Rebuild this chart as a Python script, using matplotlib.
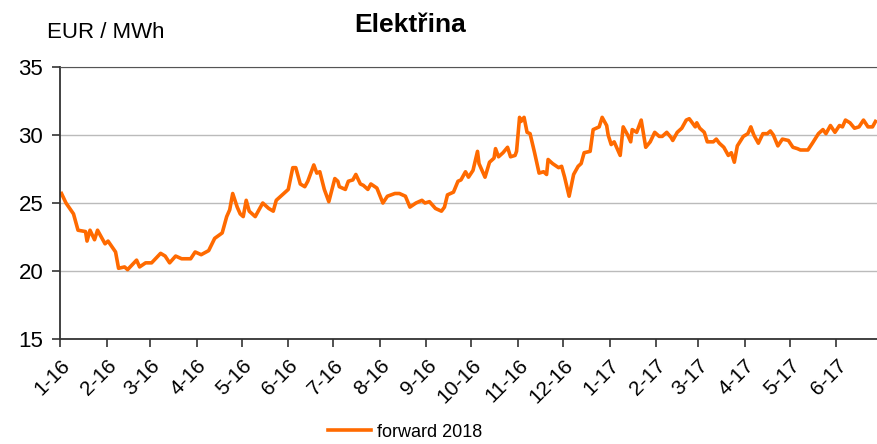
import numpy as np
import pandas as pd
import matplotlib
matplotlib.use("Agg")
import matplotlib.pyplot as plt
import matplotlib.dates as mdates

plt.rcParams["font.family"] = ["Liberation Sans", "DejaVu Sans"]

# days since 1 Jan 2016 and forward 2018 price (EUR/MWh)
days = [1, 4, 9, 12, 17, 18, 20, 23, 25, 30, 32, 37, 39, 43, 45, 51, 53, 57, 61, 67,
        70, 73, 77, 81, 87, 90, 94, 99, 103, 108, 111, 113, 115, 118, 120, 122, 124, 126, 130, 135,
        139, 142, 144, 149, 152, 155, 157, 160, 163, 165, 169, 171, 173, 176, 179, 183, 185, 186, 190, 192,
        195, 197, 200, 202, 205, 207, 211, 215, 218, 223, 226, 230, 233, 237, 241, 243, 246, 250, 254, 256,
        258, 262, 265, 267, 270, 272, 275, 278, 279, 283, 286, 289, 290, 292, 295, 298, 300, 303, 304, 306,
        307, 309, 311, 313, 316, 319, 322, 324, 325, 328, 332, 334, 336, 339, 342, 345, 347, 349, 353, 355,
        359, 361, 364, 365, 367, 369, 373, 375, 378, 380, 381, 384, 387, 390, 393, 396, 399, 401, 404, 407,
        408, 411, 414, 416, 417, 419, 423, 424, 426, 429, 431, 435, 437, 439, 442, 445, 447, 449, 451, 455,
        458, 460, 462, 465, 468, 471, 473, 475, 478, 481, 485, 488, 491, 493, 498, 501, 505, 508, 510, 513,
        516, 519, 521, 523, 526, 529, 532, 535, 538, 541, 543]
price = [25.7, 25.0, 24.2, 23.0, 22.9, 22.2, 23.0, 22.3, 23.0, 22.0, 22.2, 21.4, 20.2, 20.3, 20.1, 20.8, 20.3, 20.6, 20.6, 21.3,
         21.1, 20.6, 21.1, 20.9, 20.9, 21.4, 21.2, 21.5, 22.4, 22.8, 24.0, 24.5, 25.7, 24.7, 24.2, 24.0, 25.2, 24.4, 24.0, 25.0,
         24.6, 24.4, 25.2, 25.7, 26.0, 27.6, 27.6, 26.4, 26.2, 26.6, 27.8, 27.2, 27.3, 26.0, 25.1, 26.8, 26.6, 26.2, 26.0, 26.6,
         26.7, 27.1, 26.4, 26.3, 26.0, 26.4, 26.1, 25.0, 25.5, 25.7, 25.7, 25.5, 24.7, 25.0, 25.2, 25.0, 25.1, 24.6, 24.4, 24.7,
         25.6, 25.8, 26.6, 26.7, 27.3, 26.9, 27.4, 28.8, 27.9, 26.9, 28.0, 28.3, 29.0, 28.4, 28.7, 29.1, 28.4, 28.5, 28.8, 31.3,
         31.0, 31.3, 30.2, 30.1, 28.7, 27.2, 27.3, 27.1, 28.2, 27.9, 27.6, 27.7, 26.9, 25.5, 27.1, 27.7, 27.9, 28.7, 28.8, 30.4,
         30.6, 31.3, 30.7, 30.0, 29.3, 29.5, 28.5, 30.6, 30.0, 29.5, 30.4, 30.2, 31.1, 29.1, 29.5, 30.2, 29.9, 29.9, 30.2, 29.8,
         29.6, 30.2, 30.5, 30.9, 31.1, 31.2, 30.6, 30.9, 30.5, 30.2, 29.5, 29.5, 29.7, 29.4, 29.1, 28.5, 28.7, 28.0, 29.2, 29.9,
         30.1, 30.6, 30.0, 29.4, 30.1, 30.1, 30.3, 30.0, 29.2, 29.7, 29.6, 29.1, 29.0, 28.9, 28.9, 29.4, 30.1, 30.4, 30.1, 30.7,
         30.2, 30.7, 30.6, 31.1, 30.9, 30.5, 30.6, 31.1, 30.6, 30.6, 31.0]

dates = pd.Timestamp("2016-01-01") + pd.to_timedelta(days, unit="D")

fig = plt.figure(figsize=(8.77, 4.44), dpi=100)
ax = fig.add_axes([0.0684, 0.2365, 0.9316, 0.6125])

ax.plot(dates, price, color="#FF6A00", linewidth=2.6, label="forward 2018")

ax.set_ylim(15, 35)
ax.set_yticks([15, 20, 25, 30, 35])
ax.set_xlim(pd.Timestamp("2016-01-01"), pd.Timestamp("2017-06-28"))

ticks = pd.date_range("2016-01-01", "2017-06-01", freq="MS")
ax.set_xticks(ticks)
ax.set_xticklabels([f"{d.month}-{d.strftime('%y')}" for d in ticks],
                   rotation=45, ha="right", rotation_mode="anchor", fontsize=15)
ax.tick_params(axis="x", length=6, width=1.2, color="#333333", pad=6)
ax.tick_params(axis="y", length=6, width=1.2, color="#333333", labelsize=16, pad=6)

ax.grid(axis="y", color="#bbbbbb", linewidth=1)
ax.set_axisbelow(True)
for s in ["right"]:
    ax.spines[s].set_visible(False)
ax.spines["top"].set_color("#555555")
ax.spines["left"].set_color("#333333")
ax.spines["bottom"].set_color("#333333")
ax.spines["left"].set_linewidth(1.3)
ax.spines["bottom"].set_linewidth(1.3)

fig.text(410 / 877, 1 - 25 / 444, "Elektřina", ha="center", va="center",
         fontsize=19, fontweight="bold")
fig.text(47 / 877, 1 - 33 / 444, "EUR / MWh", ha="left", va="center", fontsize=16)

fig.legend(loc="center", bbox_to_anchor=(405 / 877, 1 - 432 / 444), frameon=False,
           fontsize=13, handlelength=2.4, handletextpad=0.3)

plt.savefig("out.png", dpi=100)
